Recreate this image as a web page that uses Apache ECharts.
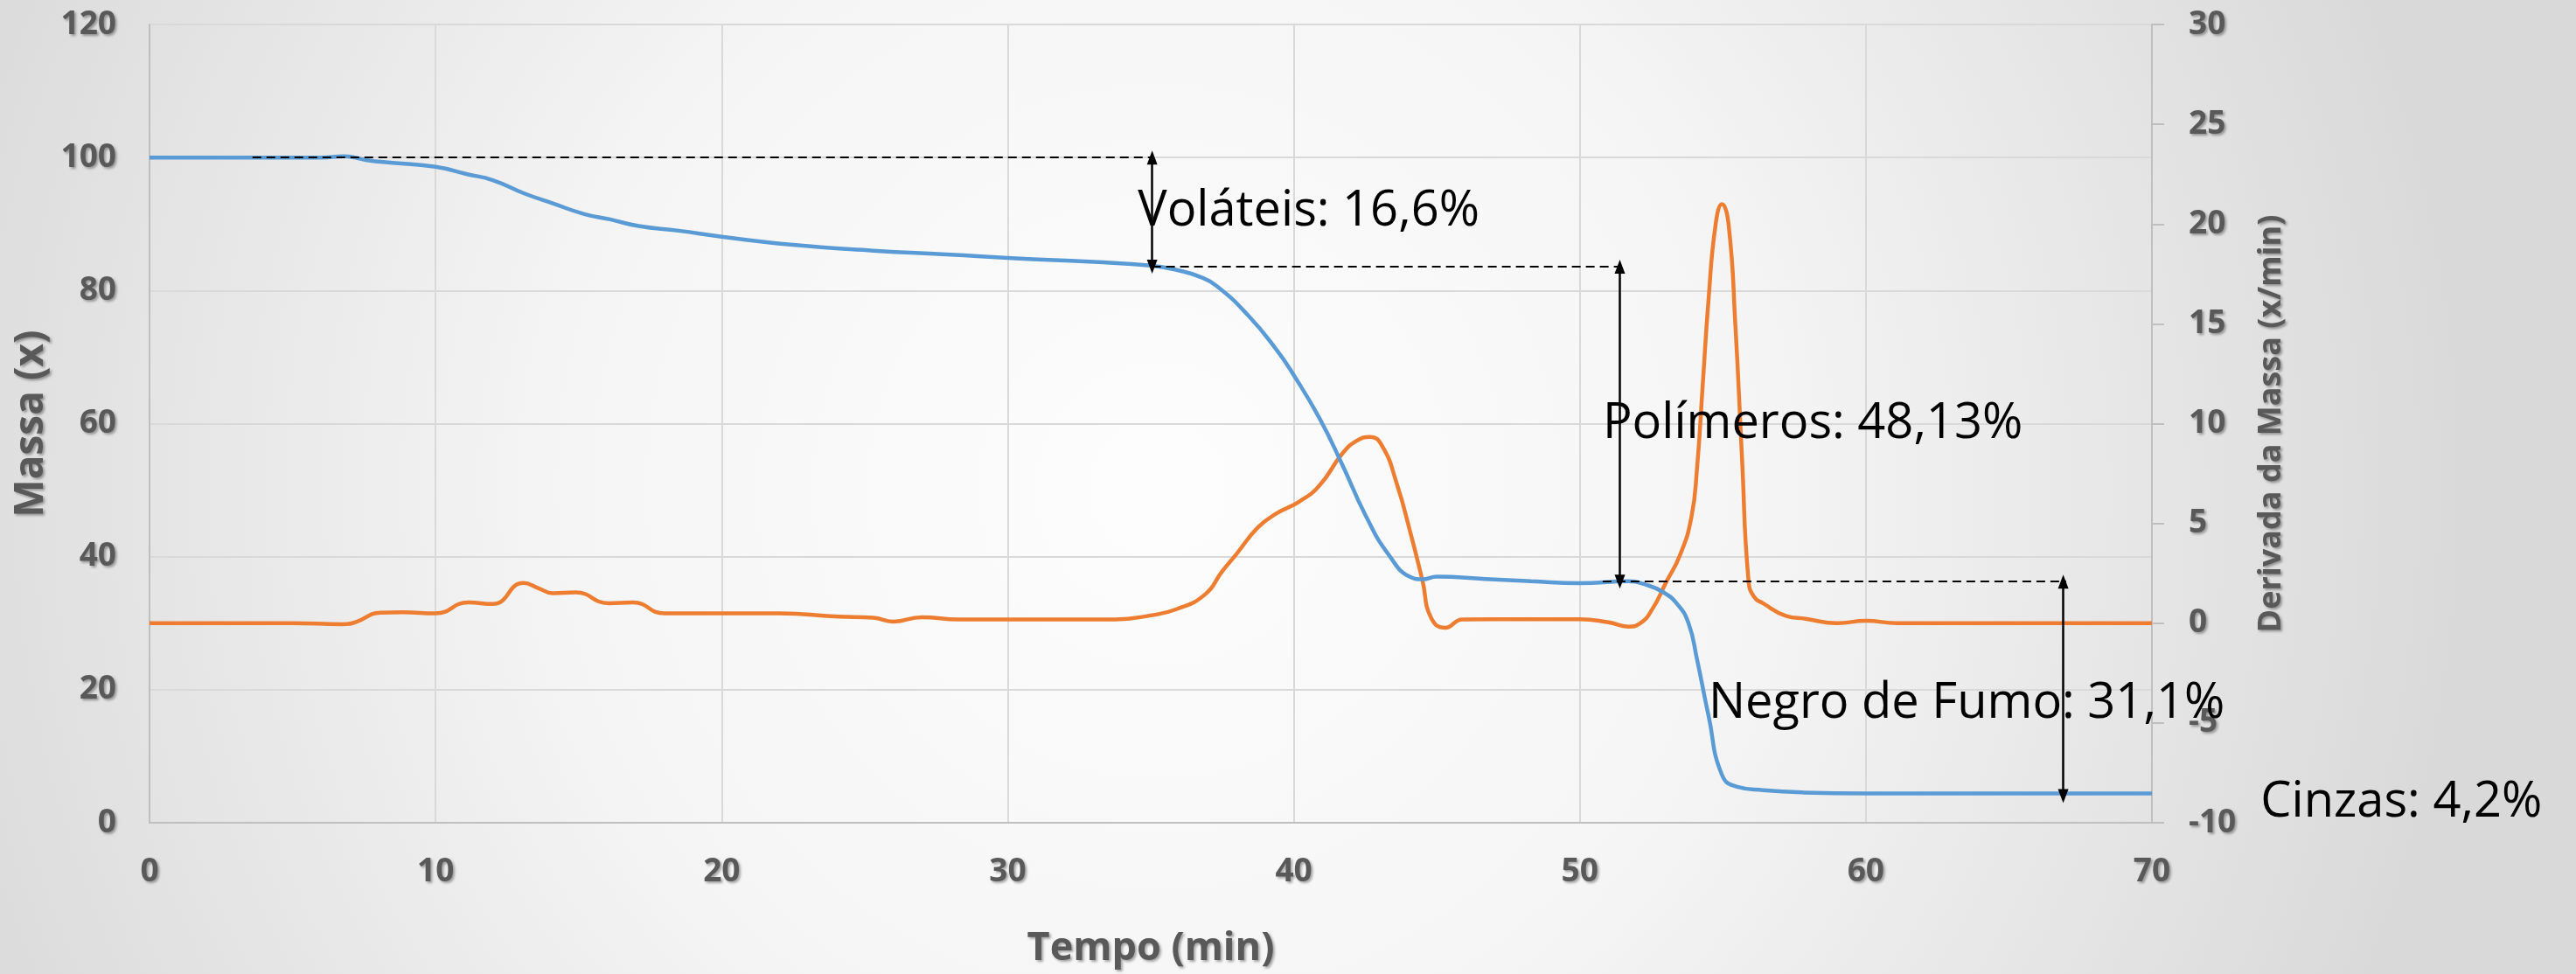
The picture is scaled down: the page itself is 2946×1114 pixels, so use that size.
<!DOCTYPE html>
<html lang="pt">
<head>
    <meta charset="UTF-8">
    <title>TGA / DTG</title>
    <style type="text/css">
        html,
        body,
        .canvas {
            padding: 0;
            margin: 0;
            overflow: hidden;
            width: 100%;
            height: 100%;
        }
    </style>
</head>
<body>
<div class="canvas" id="tgaChart"></div>
<script type="text/javascript" src="https://cdn.jsdelivr.net/npm/echarts@6.0.0/dist/echarts.min.js"></script>
<script>
    // curva de massa (eixo esquerdo)
    const massTime = [0, 3, 6, 6.8, 7.6, 8.5, 10, 11.1, 12, 13.1, 14.1, 15.2, 16.1, 17.1, 18.5, 20, 22.4, 25.3, 28, 30,
        33, 35, 36, 36.7, 37.3, 38.4, 39.4, 40, 40.9, 41.7, 42.5, 43.3, 44.1, 44.5, 45, 46.7, 48.3, 50, 51.7, 52.3,
        52.9, 53.4, 53.8, 54.1, 54.5, 54.97, 55.5, 56.4, 57.8, 60, 65, 70];
    const massVals = [100, 100, 100, 100.2, 99.6, 99.2, 98.6, 97.5, 96.6, 94.6, 93.1, 91.5, 90.7, 89.7, 89.0, 88.1, 86.9,
        86.0, 85.4, 84.9, 84.3, 83.75, 83.0, 82.1, 80.7, 76.3, 71.1, 67.3, 60.8, 53.8, 46.3, 40.4, 36.9, 36.6, 37.0,
        36.65, 36.3, 36.0, 36.3, 35.8, 34.7, 32.9, 30.0, 24.5, 16.1, 7.2, 5.4, 4.9, 4.55, 4.4, 4.4, 4.4];

    // derivada (eixo direito)
    const dtgTime = [0, 5, 6.75, 7.2, 8.07, 8.86, 10, 11.14, 12, 13.07, 13.6, 14.1, 14.9, 16.05, 16.9, 18, 20, 22, 24.1,
        25.3, 26, 27, 28.3, 30, 33.75, 35, 35.9, 36.9, 37.5, 38, 38.75, 39.4, 40.2, 40.9, 41.7, 42.2, 42.66, 43.1,
        43.6, 44.06, 44.5, 44.8, 45.3, 45.9, 48.2, 50, 51, 51.7, 52.1, 52.55, 53, 53.5, 53.9, 54.1, 54.3, 54.5,
        54.75, 54.97, 55.2, 55.44, 55.67, 55.9, 56.1, 56.4, 57.2, 57.9, 59, 60, 61.1, 65, 70];
    const dtgVals = [0, 0, -0.05, 0.05, 0.53, 0.55, 0.49, 1.04, 0.96, 2.01, 1.75, 1.5, 1.54, 1.0, 1.04, 0.49, 0.49, 0.49,
        0.33, 0.27, 0.08, 0.3, 0.19, 0.19, 0.19, 0.39, 0.7, 1.44, 2.6, 3.47, 4.8, 5.5, 6.1, 6.9, 8.5, 9.14, 9.33,
        8.86, 7.0, 4.64, 2.14, 0.27, -0.23, 0.19, 0.2, 0.2, 0.04, -0.17, -0.02, 0.74, 2.0, 3.4, 5.3, 7.8, 12.0, 16.2,
        20.0, 21.0, 20.0, 14.9, 8.3, 2.1, 1.3, 1.0, 0.37, 0.22, 0.0, 0.12, 0.0, 0.0, 0.0];

    // degraus de perda de massa
    const stepTime = [35.05, 51.4, 66.9];
    const stepTop = [100, 83.6, 36.25];
    const stepBottom = [83.6, 36.25, 4.0];
    const dashStart = [3.6, 35.05, 50.8];
    const dashEnd = [35.05, 51.4, 67.0];

    const noteTexts = ['Voláteis: 16,6%', 'Polímeros: 48,13%', 'Negro de Fumo: 31,1%', 'Cinzas: 4,2%'];
    const noteTime = [34.55, 50.8, 54.5, 73.8];
    const noteMass = [91.9, 59.9, 17.9, 3.0];

    const xTicks = [0, 70, 10];
    const massTicks = [0, 120, 20];
    const dtgTicks = [-10, 30, 5];

    const gray = '#595959';
    const labelFont = {
        color: gray,
        fontFamily: 'Open Sans',
        fontWeight: 'bold',
        fontSize: 37,
        textShadowColor: 'rgba(0,0,0,0.35)',
        textShadowBlur: 3,
        textShadowOffsetX: 2,
        textShadowOffsetY: 2
    };
    const nameFont = Object.assign({}, labelFont, {fontSize: 46});

    function pairs(xs, ys) {
        return xs.map(function (x, i) {
            return [x, ys[i]];
        });
    }

    const markLines = [];
    stepTime.forEach(function (t, i) {
        markLines.push([
            {coord: [dashStart[i], stepTop[i]], symbol: 'none', lineStyle: {type: [10, 6], width: 2}},
            {coord: [dashEnd[i], stepTop[i]], symbol: 'none'}
        ]);
        markLines.push([
            {coord: [t, stepTop[i]], symbol: 'triangle', lineStyle: {type: 'solid', width: 2.5}},
            {coord: [t, stepBottom[i]], symbol: 'triangle'}
        ]);
    });

    const chart = echarts.init(document.getElementById('tgaChart'));

    const option = {
        animation: false,
        backgroundColor: {
            type: 'radial', x: 0.45, y: 0.5, r: 1.35,
            colorStops: [
                {offset: 0, color: '#fdfdfd'},
                {offset: 0.45, color: '#f5f5f5'},
                {offset: 1, color: '#d9d9d9'}
            ]
        },
        grid: {left: 171, right: 485, top: 28, bottom: 173},
        xAxis: {
            type: 'value',
            min: xTicks[0], max: xTicks[1], interval: xTicks[2],
            name: 'Tempo (min)',
            nameLocation: 'middle',
            nameGap: 122,
            nameTextStyle: Object.assign({}, nameFont, {fontSize: 45}),
            axisLine: {onZero: false, lineStyle: {color: '#bfbfbf', width: 2}},
            axisTick: {show: false},
            axisLabel: Object.assign({margin: 38}, labelFont),
            splitLine: {show: true, lineStyle: {color: '#d9d9d9', width: 2}}
        },
        yAxis: [{
            type: 'value',
            position: 'left',
            min: massTicks[0], max: massTicks[1], interval: massTicks[2],
            name: 'Massa (x)',
            nameLocation: 'middle',
            nameGap: 100,
            nameRotate: 90,
            nameTextStyle: nameFont,
            axisLine: {show: true, onZero: false, lineStyle: {color: '#bfbfbf', width: 2}},
            axisTick: {show: false},
            axisLabel: Object.assign({margin: 38}, labelFont),
            splitLine: {show: true, lineStyle: {color: '#d9d9d9', width: 2}}
        }, {
            type: 'value',
            position: 'right',
            min: dtgTicks[0], max: dtgTicks[1], interval: dtgTicks[2],
            name: 'Derivada da Massa (x/min)',
            nameLocation: 'middle',
            nameGap: 119,
            nameRotate: 90,
            nameTextStyle: Object.assign({}, nameFont, {fontSize: 36}),
            axisLine: {show: true, onZero: false, lineStyle: {color: '#bfbfbf', width: 2}},
            axisTick: {show: true, length: 14, lineStyle: {color: '#bfbfbf', width: 2}},
            axisLabel: Object.assign({margin: 42}, labelFont),
            splitLine: {show: false}
        }],
        series: [{
            name: 'Massa',
            type: 'line',
            yAxisIndex: 0,
            data: pairs(massTime, massVals),
            smooth: 0.5,
            showSymbol: false,
            lineStyle: {color: '#5b9bd5', width: 4.5},
            z: 3,
            markLine: {
                silent: true,
                animation: false,
                symbolSize: [12, 16],
                label: {show: false},
                lineStyle: {color: '#000'},
                itemStyle: {color: '#000'},
                data: markLines
            }
        }, {
            name: 'Derivada',
            type: 'line',
            yAxisIndex: 1,
            data: pairs(dtgTime, dtgVals),
            smooth: 0.5,
            showSymbol: false,
            lineStyle: {color: '#ed7d31', width: 4.5},
            z: 2
        }]
    };

    chart.setOption(option);

    // textos das etapas, posicionados em coordenadas do grafico
    chart.setOption({
        graphic: noteTexts.map(function (txt, i) {
            const p = chart.convertToPixel({seriesIndex: 0}, [noteTime[i], noteMass[i]]);
            return {
                type: 'text',
                x: p[0],
                y: p[1],
                z: 10,
                silent: true,
                style: {
                    text: txt,
                    fill: '#000',
                    font: '56px "Open Sans"',
                    textAlign: 'left',
                    textVerticalAlign: 'middle'
                }
            };
        })
    });
</script>
</body>
</html>
